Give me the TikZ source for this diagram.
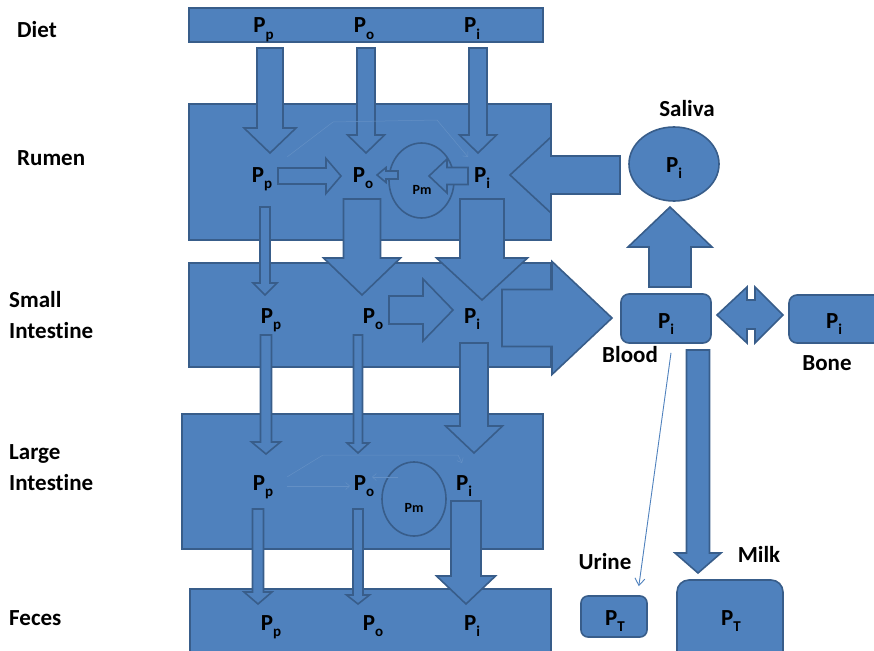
\documentclass[tikz,border=0pt]{standalone}
\usepackage{fontspec}
\setmainfont[Ligatures=NoCommon]{Carlito}
\usetikzlibrary{arrows.meta,calc,shapes.geometric}

\definecolor{boxblue}{HTML}{4F81BD}
\definecolor{boxline}{HTML}{385D8A}
\colorlet{faintline}{boxblue!88!white}

\tikzset{
  organ/.style={fill=boxblue,draw=boxline,line width=1.6pt},
  organbox/.style={organ,inner sep=0pt},
  pool/.style={font=\bfseries\fontsize{23}{27}\selectfont,inner sep=0pt,anchor=base},
  sitelabel/.style={font=\bfseries\fontsize{23}{31}\selectfont,inner sep=0pt,anchor=base west,align=left},
  microbes/.style={font=\bfseries\fontsize{14}{16}\selectfont,inner sep=0pt,anchor=base},
  faintflow/.style={draw=faintline,line width=0.5pt,-{Straight Barb[length=4pt,width=7pt]}},
  urineflow/.style={draw=boxblue,line width=0.9pt,-{Straight Barb[length=7pt,width=10pt]}},
}

\newcommand{\Pool}[1]{P\raisebox{-0.3em}{\fontsize{15}{15}\selectfont #1}}
\newcommand{\flow}[6]{%
  \filldraw[organ,shift={(#1)},rotate=#2]
    (0,0) -- (-#6,#5/2) -- (-#6,#4/2) -- (-#3,#4/2) -- (-#3,-#4/2)
    -- (-#6,-#4/2) -- (-#6,-#5/2) -- cycle;}

\begin{document}
\begin{tikzpicture}[x=1pt,y=-1pt]
  \useasboundingbox (0,0) rectangle (874,650);
  \clip (0,0) rectangle (874,650);

  \node[organbox,minimum width=354,minimum height=34] (diet) at (366,25) {};
  \node[organbox,minimum width=362,minimum height=136] (rumen) at (370,172) {};
  \node[organbox,minimum width=362,minimum height=104] (small) at (370,315) {};
  \node[organbox,minimum width=361,minimum height=135] (large) at (362.5,481.5) {};
  \node[organbox,minimum width=361,minimum height=81] (feces) at (370.5,629.5) {};

  \node[organbox,ellipse,minimum width=65,minimum height=75] (rumenpm) at (421.5,180.5) {};
  \node[organbox,ellipse,minimum width=64,minimum height=74] (largepm) at (414,499) {};

  \node[organbox,ellipse,minimum width=90,minimum height=74] (saliva) at (674,164) {};
  \node[organbox,rounded corners=8,minimum width=90,minimum height=49] (blood) at (666,318.5) {};
  \node[organbox,rounded corners=8,minimum width=95,minimum height=48] (bone) at (836.5,319) {};
  \node[organbox,rounded corners=7,minimum width=66,minimum height=41] (urine) at (614,616.5) {};
  \node[organbox,rounded corners=12,minimum width=106,minimum height=85] (milk) at (730,622.5) {};

  \flow{270,153}{-90}{105}{26}{52}{25}
  \flow{366,153}{-90}{105}{18}{37}{18}
  \flow{478,153}{-90}{105}{18}{37}{18}

  \draw[faintflow] (287,157) -- (333,122) -- (437,120) -- (468,157);
  \flow{341,176}{0}{63}{16}{35}{15}
  \flow{377,175}{180}{21}{8}{15}{9}
  \flow{429,176}{180}{39}{17}{34}{18}
  \flow{510,175}{180}{110}{38}{76}{41}

  \flow{265,295}{-90}{88}{10}{24}{12}
  \flow{362,295}{-90}{96}{37}{77}{37}
  \flow{482,300}{-90}{101}{44}{91}{42}

  \flow{453,310}{0}{64}{28}{62}{30}
  \flow{612,318}{0}{110}{57}{113}{60}
  \flow{670,207}{90}{80}{42}{84}{40}
  \filldraw[organ] (717,315) -- (747,287) -- (747,300) -- (755,300) -- (755,287)
    -- (783,315) -- (755,343) -- (755,329) -- (747,329) -- (747,343) -- cycle;
  \flow{698,573}{-90}{223}{23}{46}{20}

  \flow{266,454}{-90}{119}{11}{29}{12}
  \flow{358,453}{-90}{118}{9}{22}{10}
  \flow{474,453}{-90}{110}{28}{57}{27}

  \draw[faintflow] (287,477) -- (323,455) -- (458,455) -- (462,463);
  \draw[faintflow] (287,486) -- (350,486);
  \draw[faintflow] (398,477) -- (372,477);

  \flow{258,604}{-90}{95}{11}{28}{12}
  \flow{358,604}{-90}{95}{10}{23}{9}
  \flow{466,604}{-90}{103}{30}{59}{28}

  \coordinate (urinetip) at ($(urine.north east)+(-9,-9)$);
  \draw[urineflow] ($(blood.south)+(5,9)$) -- (urinetip);

  \node[sitelabel] (dietlbl) at (17,38) {Diet};
  \node[sitelabel] (rumenlbl) at (17,165) {Rumen};
  \node[sitelabel] (smalllbl) at (9,338) {Small\\Intestine};
  \node[sitelabel] (largelbl) at (9,490) {Large\\Intestine};
  \node[sitelabel] (feceslbl) at (9,625) {Feces};

  \node[pool] (dietpp) at (263.5,33) {\Pool{p}};
  \node[pool] (dietpo) at (364,33) {\Pool{o}};
  \node[pool] (dietpi) at (472,33) {\Pool{i}};

  \node[pool] (rumenpp) at (262,182) {\Pool{p}};
  \node[pool] (rumenpo) at (363,182) {\Pool{o}};
  \node[pool] (rumenpi) at (482,182) {\Pool{i}};
  \node[microbes] (rumenpmlbl) at (422,194) {Pm};

  \node[pool] (smallpp) at (271,323) {\Pool{p}};
  \node[pool] (smallpo) at (373,323) {\Pool{o}};
  \node[pool] (smallpi) at (472,323) {\Pool{i}};

  \node[pool] (largepp) at (263,490) {\Pool{p}};
  \node[pool] (largepo) at (364,490) {\Pool{o}};
  \node[pool] (largepi) at (464,490) {\Pool{i}};
  \node[microbes] (largepmlbl) at (414,512) {Pm};

  \node[pool] (fecespp) at (271,630) {\Pool{p}};
  \node[pool] (fecespo) at (373,630) {\Pool{o}};
  \node[pool] (fecespi) at (472,630) {\Pool{i}};

  \node[pool] (salivapi) at (674,172) {\Pool{i}};
  \node[pool] (bloodpi) at (666,328) {\Pool{i}};
  \node[pool] (bonepi) at (834,328) {\Pool{i}};
  \node[pool] (urinept) at (615,625) {\Pool{T}};
  \node[pool] (milkpt) at (731,625) {\Pool{T}};

  \node[pool] (salivalbl) at (687,117) {Saliva};
  \node[pool] (bloodlbl) at (630,362) {Blood};
  \node[pool] (bonelbl) at (827,370) {Bone};
  \node[pool] (urinelbl) at (605,569) {Urine};
  \node[pool] (milklbl) at (759,562) {Milk};
\end{tikzpicture}
\end{document}
